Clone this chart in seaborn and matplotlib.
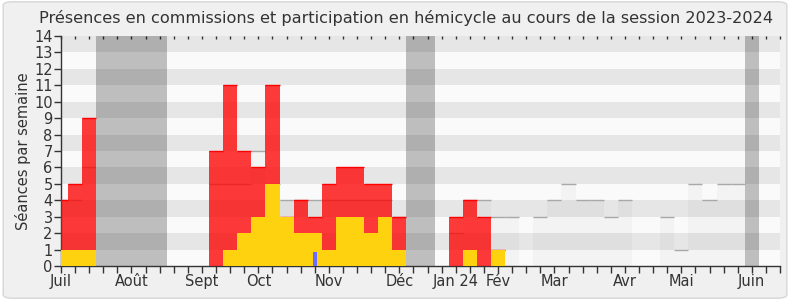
import numpy as np
import pandas as pd
import seaborn as sns
import matplotlib
matplotlib.use("Agg")
import matplotlib.pyplot as plt
from matplotlib.patches import FancyBboxPatch

# ---- data (one value per week, week 0 = first week of July 2023) ----
weeks = list(range(52))
seances_total = [4, 5, 9, 0, 0, 0, 0, 0, 0, 0,
                 0, 7, 11, 7, 6, 11, 3, 4, 3, 5,
                 6, 6, 5, 5, 3, 0, 0, 0, 3, 4,
                 3, 1, 0, 0, 0, 0, 0, 0, 0, 0,
                 0, 0, 0, 0, 0, 0, 0, 0, 0, 0,
                 0, 0]
hemicycle = [1, 1, 1, 0, 0, 0, 0, 0, 0, 0,
             0, 0, 1, 2, 3, 5, 3, 2, 2, 1,
             3, 3, 2, 3, 1, 0, 0, 0, 0, 1,
             0, 1, 0, 0, 0, 0, 0, 0, 0, 0,
             0, 0, 0, 0, 0, 0, 0, 0, 0, 0,
             0, 0]
mediane = [4, 4, 6, 0, 0, 0, 0, 0, 0, 0,
           0, 5, 5, 5, 7, 5, 4, 4, 4, 4,
           4, 4, 4, 4, 3, 0, 0, 0, 2, 4,
           4, 3, 3, 0, 3, 4, 5, 4, 4, 3,
           4, 0, 0, 3, 1, 5, 4, 5, 5, 0,
           0, 0]
questions_week = [18]
questions_val = [0.85]
vacances = [(3, 7), (25, 26), (49, 49)]
month_weeks = [0, 5, 10, 14, 19, 24, 28, 31, 35, 40, 44, 49]
month_labels = ["Juil", "Août", "Sept", "Oct", "Nov", "Déc", "Jan 24",
                "Fév", "Mar", "Avr", "Mai", "Juin"]
title = "Présences en commissions et participation en hémicycle au cours de la session 2023-2024"
ylabel = "Séances par semaine"

df = pd.DataFrame({"week": weeks, "total": seances_total,
                   "hemi": hemicycle, "med": mediane})

sns.set_theme(style="white")
plt.rcParams["font.family"] = ["DejaVu Sans"]

fig = plt.figure(figsize=(7.9, 3.0), dpi=100)
fig.patch.set_facecolor("white")
fig.patches.append(FancyBboxPatch((0.004, 0.006), 0.992, 0.988,
                                  boxstyle="round,pad=0,rounding_size=0.012",
                                  transform=fig.transFigure, facecolor="#f0f0f0",
                                  edgecolor="#d6d6d6", linewidth=1, zorder=-10))
ax = fig.add_axes([61 / 790, 1 - 266 / 300, 719 / 790, 230 / 300])
ax.set_facecolor("#fafafa")

# horizontal stripes
for k in range(1, 14, 2):
    ax.axhspan(k, k + 1, color="#e6e6e6", lw=0, zorder=0)

# holidays
for a, b in vacances:
    ax.axvspan(a - 0.5, b + 0.5, color="black", alpha=0.24, lw=0, zorder=1)

# median bars
dm = df[df["med"] > 0]
sns.barplot(data=dm, x="week", y="med", native_scale=True, width=1, saturation=1,
            color="black", alpha=0.028, linewidth=0, errorbar=None, ax=ax, zorder=2)
ax.hlines(dm["med"], dm["week"] - 0.5, dm["week"] + 0.5, color="#a8a8a8", lw=1, zorder=3)

# presence bars
dt = df[df["total"] > 0]
sns.barplot(data=dt, x="week", y="total", native_scale=True, width=1, saturation=1,
            color="#ff0000", alpha=0.77, linewidth=0, errorbar=None, ax=ax, zorder=4)
ax.hlines(dt["total"], dt["week"] - 0.5, dt["week"] + 0.5, color="#ff0000", lw=1, zorder=5)
dh = df[df["hemi"] > 0]
sns.barplot(data=dh, x="week", y="hemi", native_scale=True, width=1, saturation=1,
            color="#ffd20f", linewidth=0, errorbar=None, ax=ax, zorder=6)
dq = pd.DataFrame({"week": questions_week, "q": questions_val})
ax.bar(dq["week"], dq["q"], width=0.27, color="#6b6bff", lw=0, zorder=7)

ax.set_xlim(0, 51)
ax.set_ylim(0, 14)
ax.set_yticks(range(15))
ax.set_yticklabels([str(i) for i in range(15)], fontsize=10.5, color="#333333")
ax.set_xticks(weeks, minor=True)
ax.set_xticks(month_weeks)
ax.set_xticklabels(month_labels, fontsize=10.5, color="#333333")
ax.tick_params(axis="x", which="both", direction="out", length=5, width=1,
               color="#333333", pad=1, bottom=True)
ax.tick_params(axis="y", direction="out", length=5, width=1, color="#333333", pad=1, left=True)
ax.set_xlabel("")
ax.set_ylabel(ylabel, fontsize=10.5, color="#333333", labelpad=2)
for s in ["top", "right"]:
    ax.spines[s].set_visible(False)
for s in ["left", "bottom"]:
    ax.spines[s].set_color("#333333")
    ax.spines[s].set_linewidth(1)
sec = ax.secondary_xaxis("top")
sec.set_xticks(weeks)
sec.tick_params(direction="in", length=2, width=1, color="#333333", labeltop=False)
sec.spines["top"].set_visible(False)

fig.text(0.514, 0.94, title, ha="center", va="center", fontsize=11.6, color="#333333")

fig.savefig("out.png", dpi=100, facecolor=fig.get_facecolor())
